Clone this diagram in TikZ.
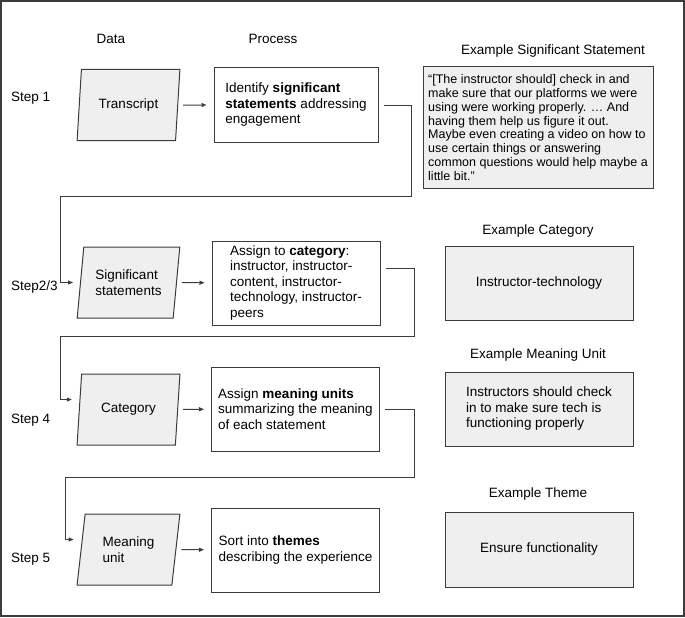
\documentclass[tikz,border=0pt]{standalone}
\usepackage{fontspec}
\setmainfont{Liberation Sans}
\usetikzlibrary{shapes.geometric,arrows.meta}
\definecolor{linegray}{HTML}{3C3C3C}
\definecolor{boxgray}{HTML}{EFEFEF}
\begin{document}
\begin{tikzpicture}[x=1pt,y=-1pt,
  font=\fontsize{13.5}{15.5}\selectfont,
  headtext/.style={inner sep=0pt},
  databox/.style={trapezium, trapezium left angle=80, trapezium right angle=100,
    trapezium stretches=true, draw=linegray, fill=boxgray, line width=1pt,
    minimum width=103pt, minimum height=71pt, align=left, inner sep=2pt},
  procbox/.style={draw=linegray, line width=1pt, minimum width=168pt,
    minimum height=84pt, align=left},
  examplebox/.style={draw=linegray, fill=boxgray, line width=1pt,
    minimum width=188pt, minimum height=74pt, align=left},
  flow/.style={draw=linegray, line width=1pt, -{Triangle[length=5pt,width=4pt]},
    shorten <=5pt, shorten >=7pt}]
\useasboundingbox (0,0) rectangle (685,618);
\draw[linegray, line width=1.2pt] (1,1) rectangle (684,616);
\node[headtext] (data) at (111,39) {Data};
\node[headtext] (process) at (273,39) {Process};
\node[headtext, anchor=west] (step1) at (11,98) {Step 1};
\node[headtext, anchor=west] (step23) at (11,287) {Step2/3};
\node[headtext, anchor=west] (step4) at (11,420) {Step 4};
\node[headtext, anchor=west] (step5) at (11,559) {Step 5};
\node[databox] (trans) at (128.5,105) {Transcript};
\node[databox] (sig) at (128.5,282.5) {Significant\\statements};
\node[databox] (cat) at (128.5,409.5) {Category};
\node[databox] (mu) at (128.5,549.5) {Meaning\\unit};
\node[procbox, minimum width=164pt, minimum height=74pt] (p1) at (296,105)
  {Identify \textbf{significant}\\\textbf{statements} addressing\\engagement};
\node[procbox] (p2) at (296,283)
  {Assign to \textbf{category}:\\instructor, instructor-\\content, instructor-\\technology, instructor-\\peers};
\node[procbox] (p3) at (295.5,409)
  {Assign \textbf{meaning units}\\summarizing the meaning\\of each statement};
\node[procbox] (p4) at (295.5,550)
  {Sort into \textbf{themes}\\describing the experience};
\node[headtext] (t1) at (553,51) {Example Significant Statement};
\node[headtext] (t2) at (538,231) {Example Category};
\node[headtext] (t3) at (538,355) {Example Meaning Unit};
\node[headtext] (t4) at (538,494) {Example Theme};
\node[examplebox, minimum width=230pt, minimum height=121pt,
  font=\fontsize{12.5}{13.9}\selectfont] (e1) at (538,127.5)
  {“[The instructor should] check in and\\make sure that our platforms we were\\using were working properly. … And\\having them help us figure it out.\\Maybe even creating a video on how to\\use certain things or answering\\common questions would help maybe a\\little bit.”};
\node[examplebox] (e2) at (539,283) {Instructor-technology};
\node[examplebox] (e3) at (539,409) {Instructors should check\\in to make sure tech is\\functioning properly};
\node[examplebox, minimum height=75pt] (e4) at (539,549.5) {Ensure functionality};
\draw[flow] (trans) -- (p1);
\draw[flow] (sig) -- (p2);
\draw[flow] (cat) -- (p3);
\draw[flow] (mu) -- (p4);
\coordinate (b1) at (411,196);
\coordinate (b2) at (60,196);
\coordinate (b3) at (414,336);
\coordinate (b4) at (60,336);
\coordinate (b5) at (414,477);
\coordinate (b6) at (65,477);
\draw[flow] (p1.east) -| (b1) -- (b2) |- (sig.west);
\draw[flow] ([yshift=15pt]p2.east) -| (b3) -- (b4) |- ([yshift=10pt]cat.west);
\draw[flow] (p3.east) -| (b5) -- (b6) |- ([yshift=10pt]mu.west);
\end{tikzpicture}
\end{document}
